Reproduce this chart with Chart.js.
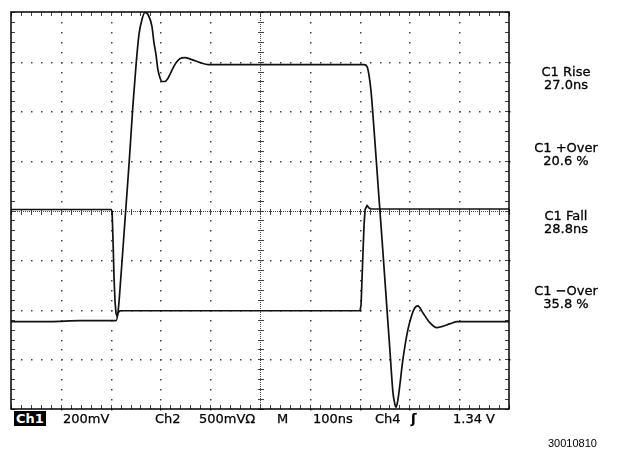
<!DOCTYPE html>
<html>
<head>
<meta charset="utf-8">
<script src="https://cdn.jsdelivr.net/npm/chart.js@4"></script>
<style>
  body { margin: 0; background: #fff; }
  #wrap { position: relative; width: 622px; height: 453px; overflow: hidden; }
  #scope { position: absolute; left: 0; top: 0; }
  .txt { position: absolute; font-family: "DejaVu Sans", sans-serif; font-size: 13px; line-height: 13px; color: #000; white-space: nowrap; -webkit-text-stroke: 0.25px #000; }
  .inv { background: #000; color: #fff; font-weight: bold; padding: 1px 2px 1px 2px; -webkit-text-stroke: 0; }
  .meas { position: absolute; left: 516px; width: 100px; text-align: center; font-family: "DejaVu Sans", sans-serif; font-size: 13px; line-height: 13px; color: #000; -webkit-text-stroke: 0.3px #000; }
  .fig { position: absolute; left: 548px; top: 438px; font-family: "Liberation Sans", Arial, sans-serif; font-size: 11px; line-height: 11px; color: #000; }
</style>
</head>
<body>
<div id="wrap">
  <canvas id="scope" width="622" height="453"></canvas>
  <span class="txt inv" style="left:14px; top:411px;">Ch1</span>
  <span class="txt" style="left:63px; top:412px;">200mV</span>
  <span class="txt" style="left:155px; top:412px;">Ch2</span>
  <span class="txt" style="left:199px; top:412px;">500mVΩ</span>
  <span class="txt" style="left:277px; top:412px;">M</span>
  <span class="txt" style="left:313px; top:412px;">100ns</span>
  <span class="txt" style="left:375px; top:412px;">Ch4</span>
  <span class="txt" style="left:411px; top:412px; font-weight:bold;">ʃ</span>
  <span class="txt" style="left:453px; top:412px;">1.34 V</span>
  <div id="readouts"></div>
  <span class="fig">30010810</span>
</div>
<script>
// time in ns (100 ns/div), level in screen divisions from centre
const ch1Time = [0, 78, 139, 189, 211, 215, 221, 229, 237, 245, 251, 257, 263, 269, 275, 283, 287, 291, 295, 299,
  303, 309, 315, 319, 329, 339, 349, 363, 380, 396, 500, 580, 661, 709, 715, 719, 723, 729, 737, 745,
  753, 761, 767, 771, 773, 777, 787, 797, 805, 811, 817, 827, 841, 855, 865, 882, 896, 932, 1000];
const ch1Div = [-2.24, -2.24, -2.22, -2.22, -2.22, -2.04, -1.29, -0.18, 0.93, 2.14, 2.92, 3.55, 3.85, 3.99, 3.95, 3.71, 3.39, 3.15, 2.84, 2.68,
  2.60, 2.60, 2.66, 2.74, 2.94, 3.06, 3.08, 3.04, 2.98, 2.94, 2.94, 2.94, 2.94, 2.94, 2.90, 2.72, 2.40, 1.63, 0.52, -0.58,
  -1.71, -2.84, -3.67, -3.91, -3.97, -3.81, -3.00, -2.40, -2.10, -1.96, -1.92, -2.06, -2.26, -2.36, -2.34, -2.28, -2.24, -2.24, -2.24];

const ch2Time = [0, 201, 203, 205, 207, 209, 211, 213, 215, 219, 701, 703, 707, 709, 711, 715, 719, 723, 1000];
const ch2Div = [0.02, 0.02, -0.02, -0.65, -1.39, -1.85, -2.08, -2.12, -2.06, -2.02, -2.02, -1.90, -0.79, -0.28, 0.02, 0.10, 0.05, 0.03, 0.03];

const measNames = ["C1 Rise", "C1 +Over", "C1 Fall", "C1 \u2212Over"];
const measValues = ["27.0ns", "20.6 %", "28.8ns", "35.8 %"];
const measTops = [65, 141, 209, 284];

measNames.forEach((name, i) => {
  const d = document.createElement("div");
  d.className = "meas";
  d.style.top = measTops[i] + "px";
  d.innerHTML = name + "<br>" + measValues[i];
  document.getElementById("readouts").appendChild(d);
});

const graticule = {
  id: "graticule",
  beforeDatasetsDraw(chart) {
    const { ctx, chartArea: a, scales: { x, y } } = chart;
    const xs = [], ys = [];
    for (let i = 0; i <= 50; i++) xs.push(Math.round(x.getPixelForValue(i * 20)));
    for (let j = 0; j <= 40; j++) ys.push(Math.round(y.getPixelForValue(-4 + j * 0.2)));
    ctx.save();
    ctx.fillStyle = "#444";
    // dots on the major lines
    for (let k = 1; k < 10; k++) {
      if (k === 5) continue;
      ys.forEach(py => ctx.fillRect(xs[k * 5], py, 1.5, 1.5));
    }
    for (let k = 1; k < 8; k++) {
      if (k === 4) continue;
      xs.forEach(px => ctx.fillRect(px, ys[k * 5], 1.5, 1.5));
    }
    // centre cross
    const cx = xs[25], cy = ys[20];
    for (let p = a.top; p < a.bottom; p += 2) ctx.fillRect(cx, p, 1, 1);
    for (let p = a.left; p < a.right; p += 2) ctx.fillRect(p, cy, 1, 1);
    ys.forEach(py => ctx.fillRect(cx - 2, py, 6, 1));
    xs.forEach(px => ctx.fillRect(px, cy - 2, 1, 6));
    // ticks on the frame
    xs.forEach(px => { ctx.fillRect(px, a.top, 1, 4); ctx.fillRect(px, a.bottom - 4, 1, 4); });
    ys.forEach(py => { ctx.fillRect(a.left, py, 4, 1); ctx.fillRect(a.right - 4, py, 4, 1); });
    ctx.strokeStyle = "#000";
    ctx.lineWidth = 1.5;
    ctx.strokeRect(a.left, a.top, a.right - a.left, a.bottom - a.top);
    ctx.restore();
  }
};

const toPoints = (t, v) => t.map((x, i) => ({ x, y: v[i] }));

new Chart(document.getElementById("scope"), {
  type: "line",
  data: {
    datasets: [
      { label: "Ch1", data: toPoints(ch1Time, ch1Div), borderColor: "#111", borderWidth: 1.7, pointRadius: 0, cubicInterpolationMode: "monotone" },
      { label: "Ch2", data: toPoints(ch2Time, ch2Div), borderColor: "#111", borderWidth: 1.7, pointRadius: 0, tension: 0 }
    ]
  },
  options: {
    responsive: false,
    animation: false,
    events: [],
    layout: { padding: { left: 11, top: 12, right: 113, bottom: 44 } },
    plugins: { legend: { display: false }, tooltip: { enabled: false } },
    scales: {
      x: { type: "linear", min: 0, max: 1000, display: false },
      y: { min: -4, max: 4, display: false }
    }
  },
  plugins: [graticule]
});
</script>
</body>
</html>
